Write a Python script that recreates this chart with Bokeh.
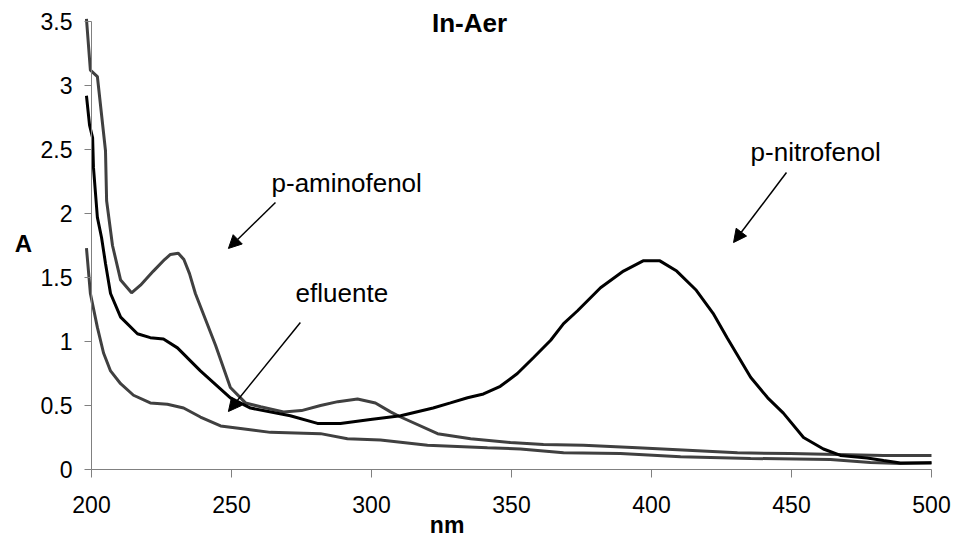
from bokeh.plotting import figure
from bokeh.models import Range1d, FixedTicker, NumeralTickFormatter, Label, Arrow, NormalHead
from bokeh.embed import file_html
from bokeh.resources import INLINE

# ---- data ----
nitro_nm = [198.2, 199.3, 200.4, 200.7, 202.1, 203.6, 205.0, 206.8, 210.4, 216.4, 221.0,
            225.7, 230.7, 238.9, 249.6, 256.8, 271.0, 280.7, 288.9, 299.6, 310.4, 322.0,
            328.2, 334.3, 340.0, 346.0, 352.1, 357.9, 364.0, 368.6, 373.6, 381.8, 390.0,
            397.0, 403.0, 409.0, 416.0, 422.0, 427.0, 435.4, 441.5, 447.1, 454.3, 461.4,
            467.5, 477.0, 482.9, 488.9, 500.0]
nitro_a = [2.92, 2.69, 2.59, 2.36, 1.97, 1.81, 1.61, 1.375, 1.19, 1.06, 1.03,
           1.02, 0.95, 0.77, 0.56, 0.48, 0.42, 0.36, 0.36, 0.39, 0.42, 0.48,
           0.52, 0.56, 0.59, 0.65, 0.75, 0.875, 1.01, 1.14, 1.24, 1.42, 1.55,
           1.63, 1.63, 1.55, 1.40, 1.22, 1.03, 0.72, 0.56, 0.44, 0.25, 0.16,
           0.11, 0.09, 0.07, 0.05, 0.05]

amino_nm = [198.2, 199.6, 202.1, 205.0, 205.4, 207.5, 210.4, 214.3, 217.5, 222.1, 226.1,
            228.2, 231.0, 233.0, 235.0, 237.1, 244.3, 249.6, 255.0, 260.4, 268.6, 275.0,
            281.8, 288.0, 295.0, 301.4, 306.8, 310.4, 323.6, 335.4, 349.6, 361.4, 375.7,
            395.0, 412.9, 430.7, 449.6, 482.9, 500.0]
amino_a = [3.52, 3.12, 3.07, 2.49, 2.10, 1.75, 1.48, 1.38, 1.44, 1.55, 1.64,
           1.68, 1.69, 1.64, 1.53, 1.375, 0.97, 0.64, 0.52, 0.49, 0.45, 0.46,
           0.50, 0.53, 0.55, 0.52, 0.45, 0.41, 0.28, 0.24, 0.21, 0.195, 0.19,
           0.17, 0.15, 0.13, 0.125, 0.11, 0.11]

eflu_nm = [198.2, 198.6, 199.6, 202.1, 204.3, 206.8, 210.4, 215.0, 221.0, 227.1, 232.9,
           238.9, 246.1, 253.2, 263.9, 281.8, 291.4, 303.2, 320.0, 341.4, 353.2, 368.6,
           388.9, 410.4, 435.4, 463.9, 478.2, 488.9, 500.0]
eflu_a = [1.73, 1.63, 1.375, 1.11, 0.91, 0.77, 0.67, 0.58, 0.52, 0.51, 0.48,
          0.41, 0.34, 0.32, 0.29, 0.28, 0.24, 0.23, 0.19, 0.17, 0.16, 0.13,
          0.125, 0.10, 0.086, 0.078, 0.055, 0.047, 0.055]

x_ticks = [200, 250, 300, 350, 400, 450, 500]
y_ticks = [0, 0.5, 1, 1.5, 2, 2.5, 3, 3.5]

FONT = "Liberation Sans"

p = figure(width=953, height=539, output_backend="svg", toolbar_location=None,
           x_range=Range1d(167.5, 507.86), y_range=Range1d(-0.547, 3.664),
           min_border_left=0, min_border_right=0, min_border_top=0, min_border_bottom=0)
p.title.visible = False
p.outline_line_color = None
p.xgrid.visible = False
p.ygrid.visible = False
p.background_fill_color = "white"
p.border_fill_color = "white"

p.line(eflu_nm, eflu_a, line_color="#404040", line_width=3)
p.line(amino_nm, amino_a, line_color="#404040", line_width=3)
p.line(nitro_nm, nitro_a, line_color="#000000", line_width=3)

xa = p.xaxis[0]
xa.fixed_location = 0
xa.bounds = (200, 500)
xa.ticker = FixedTicker(ticks=x_ticks)
xa.minor_tick_line_color = None
xa.major_tick_in = 0
xa.major_tick_out = 8
xa.axis_line_color = "#808080"
xa.major_tick_line_color = "#808080"
xa.major_label_text_font = FONT
xa.major_label_text_font_size = "23px"
xa.major_label_text_color = "black"
xa.major_label_standoff = 19

ya = p.yaxis[0]
ya.fixed_location = 200
ya.bounds = (0, 3.5)
ya.ticker = FixedTicker(ticks=y_ticks)
ya.formatter = NumeralTickFormatter(format="0.[0]")
ya.minor_tick_line_color = None
ya.major_tick_in = 0
ya.major_tick_out = 7
ya.axis_line_color = "#808080"
ya.major_tick_line_color = "#808080"
ya.major_label_text_font = FONT
ya.major_label_text_font_size = "23px"
ya.major_label_text_color = "black"
ya.major_label_standoff = 12


def lab(x, y, t, size="26px", style="normal", align="left", base="middle"):
    p.add_layout(Label(x=x, y=y, text=t, text_font=FONT, text_font_size=size,
                       text_font_style=style, text_align=align, text_baseline=base,
                       text_color="black"))


lab(335.0, 3.488, "In-Aer", size="26px", style="bold", align="center")
lab(327.0, -0.43, "nm", size="23px", style="bold", align="center")
lab(175.7, 1.762, "A", size="24px", style="bold", align="center")
lab(264.3, 2.242, "p-aminofenol")
lab(272.9, 1.375, "efluente")
lab(435.4, 2.477, "p-nitrofenol")


def arrow(x0, y0, x1, y1):
    p.add_layout(Arrow(end=NormalHead(size=13, fill_color="black", line_color="black"),
                       x_start=x0, y_start=y0, x_end=x1, y_end=y1,
                       line_color="black", line_width=1.5))


arrow(265.7, 2.086, 248.9, 1.727)
arrow(274.6, 1.148, 248.9, 0.453)
arrow(448.2, 2.32, 429.3, 1.773)

open("out.html", "w").write(file_html(p, INLINE))
